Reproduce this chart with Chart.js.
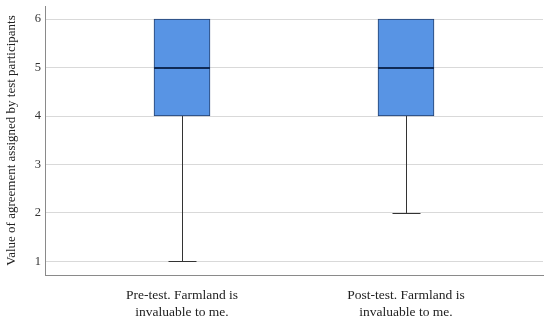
<!DOCTYPE html>
<html><head><meta charset="utf-8">
<script src="https://cdn.jsdelivr.net/npm/chart.js@4"></script>
<style>html,body{margin:0;padding:0;background:#fff}#wrap{width:550px;height:321px}</style>
</head><body><div id="wrap"><canvas id="c" width="550" height="321"></canvas></div>
<script>
const categories = [["Pre-test. Farmland is","invaluable to me."],["Post-test. Farmland is","invaluable to me."]];
const mins = [1, 2];
const q1s = [4, 4];
const medians = [5, 5];
const q3s = [6, 6];
const maxs = [6, 6];
const yTicks = [1, 2, 3, 4, 5, 6];
const positions = [0, 1];

const FONT = '"Liberation Serif", "DejaVu Serif", serif';

const whiskerPlugin = {
  id: 'whiskers',
  beforeDatasetsDraw(chart) {
    const {ctx, scales:{x, y}} = chart;
    ctx.save();
    ctx.strokeStyle = '#333';
    ctx.lineWidth = 1;
    positions.forEach((p, i) => {
      const cx = Math.round(x.getPixelForValue(p)) + 0.5;
      const half = 14;
      ctx.beginPath();
      ctx.moveTo(cx, y.getPixelForValue(mins[i]));
      ctx.lineTo(cx, y.getPixelForValue(q1s[i]));
      ctx.moveTo(cx, y.getPixelForValue(q3s[i]));
      ctx.lineTo(cx, y.getPixelForValue(maxs[i]));
      ctx.stroke();
      ctx.beginPath();
      const ymin = Math.round(y.getPixelForValue(mins[i])) + 0.5;
      const ymax = Math.round(y.getPixelForValue(maxs[i])) + 0.5;
      ctx.moveTo(cx - half, ymin); ctx.lineTo(cx + half, ymin);
      ctx.moveTo(cx - half, ymax); ctx.lineTo(cx + half, ymax);
      ctx.stroke();
    });
    ctx.restore();
  },
  afterDatasetsDraw(chart) {
    const {ctx, scales:{x, y}} = chart;
    ctx.save();
    ctx.strokeStyle = '#0f2a55';
    ctx.lineWidth = 2;
    positions.forEach((p, i) => {
      const cx = x.getPixelForValue(p);
      const ym = Math.round(y.getPixelForValue(medians[i]));
      ctx.beginPath();
      ctx.moveTo(cx - 28, ym); ctx.lineTo(cx + 28, ym);
      ctx.stroke();
    });
    ctx.restore();
  }
};

new Chart(document.getElementById('c'), {
  type: 'bar',
  data: {
    datasets: [{
      data: positions.map((p, i) => ({x: p, y: [q1s[i], q3s[i]]})),
      backgroundColor: '#5894e4',
      borderColor: '#233f6e',
      borderWidth: 1,
      borderSkipped: false,
      barThickness: 56
    }]
  },
  options: {
    responsive: false,
    animation: false,
    events: [],
    layout: {padding: {top: 6, right: 7, left: 0, bottom: 0}},
    plugins: {legend: {display: false}, tooltip: {enabled: false}},
    scales: {
      x: {
        type: 'linear',
        offset: false,
        min: -0.6116, max: 1.6116,
        afterBuildTicks: s => { s.ticks = positions.map(v => ({value: v})); },
        afterFit: s => { s.height = 46; },
        grid: {display: false, drawTicks: false, offset: false},
        border: {display: true, color: '#8a8a8a', width: 1},
        ticks: {
          autoSkip: false, maxRotation: 0, padding: 12,
          color: '#222',
          font: {family: FONT, size: 13.5, lineHeight: 1.28},
          callback: (v) => categories[positions.indexOf(v)]
        }
      },
      y: {
        min: 0.72, max: 6.27,
        afterBuildTicks: s => { s.ticks = yTicks.map(v => ({value: v})); },
        afterFit: s => { s.width = 45; s.paddingTop = 0; s.paddingBottom = 0; },
        grid: {color: '#d9d9d9', lineWidth: 1, drawTicks: false},
        border: {display: true, color: '#8a8a8a', width: 1},
        ticks: {padding: 4, color: '#333', font: {family: FONT, size: 12.5}, callback: v => v},
        title: {display: true, text: 'Value of agreement assigned by test participants',
                color: '#222', font: {family: FONT, size: 13}, padding: {top: 4, bottom: 0}}
      }
    }
  },
  plugins: [whiskerPlugin]
});
</script></body></html>
